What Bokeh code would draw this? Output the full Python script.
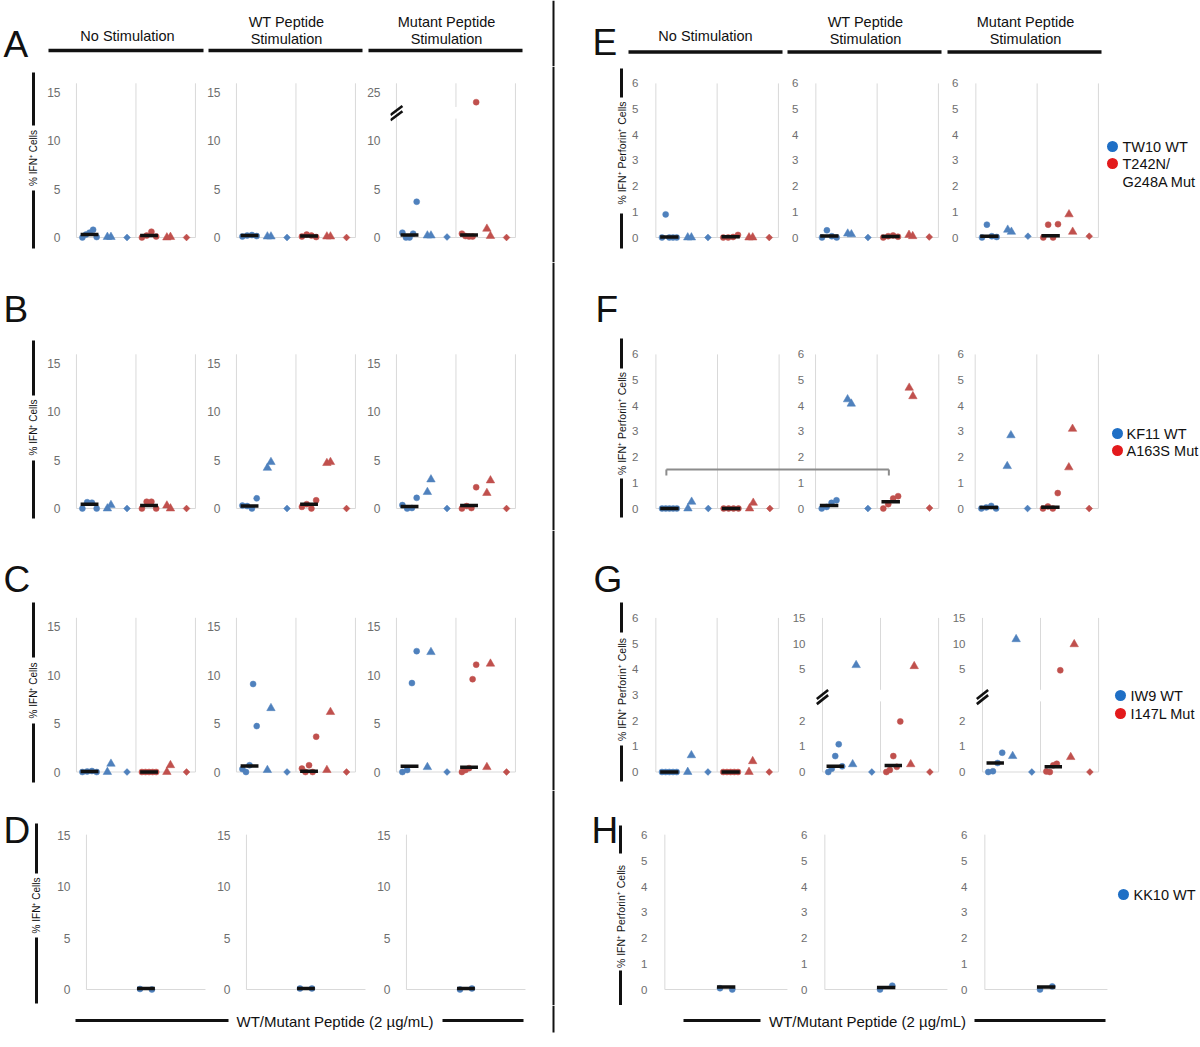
import numpy as np
from bokeh.plotting import figure
from bokeh.layouts import row, column
from bokeh.models import Range1d, FixedTicker
from bokeh.core.properties import value
from bokeh.embed import file_html
from bokeh.resources import INLINE

# ====================== DATA ======================
# Column order in every list: No Stimulation, WT Peptide Stimulation, Mutant Peptide Stimulation
# wt = blue series, mut = red series; circ = circles, tri = triangles, dia = diamond, med = median bar
COLUMNS = ["No Stimulation", "WT Peptide\nStimulation", "Mutant Peptide\nStimulation"]
X_LABEL = "WT/Mutant Peptide (2 µg/mL)"
IFN_LABEL = "% IFN⁺ Cells"
PERF_LABEL = "% IFN⁺ Perforin⁺ Cells"
IFN_TICKS = [0, 5, 10, 15]
PERF_TICKS = [0, 1, 2, 3, 4, 5, 6]

# A: TW10 WT vs T242N/G248A Mut, % IFN+ cells
A_wt_circ = [[0.0, 0.3, 0.5, 0.8, 0.05], [0.1, 0.2, 0.25, 0.15], [0.5, 0.0, 0.0, 0.4, 3.7]]
A_wt_tri = [[0.05, 0.05], [0.1, 0.1], [0.2, 0.2]]
A_wt_dia = [0.0, 0.0, 0.05]
A_wt_med = [0.3, 0.2, 0.25]
A_mut_circ = [[0.0, 0.2, 0.6, 0.1], [0.1, 0.3, 0.2, 0.05], [0.4, 0.15, 0.1, 0.1, 24.0]]
A_mut_tri = [[0.0, 0.05], [0.1, 0.1], [0.9, 0.15]]
A_mut_dia = [0.0, 0.0, 0.0]
A_mut_med = [0.2, 0.15, 0.25]

# B: KF11 WT vs A163S Mut, % IFN+ cells
B_wt_circ = [[0.0, 0.65, 0.6, 0.0], [0.3, 0.25, 0.0, 1.05], [0.35, 0.0, 0.05, 1.1]]
B_wt_tri = [[0.0, 0.35], [4.2, 4.8], [1.7, 3.0]]
B_wt_dia = [0.0, 0.0, 0.0]
B_wt_med = [0.45, 0.25, 0.2]
B_mut_circ = [[0.0, 0.7, 0.7, 0.0], [0.17, 0.45, 0.0, 0.85], [0.0, 0.25, 0.05, 2.2]]
B_mut_tri = [[0.3, 0.0], [4.7, 4.8], [1.6, 2.9]]
B_mut_dia = [0.0, 0.0, 0.0]
B_mut_med = [0.3, 0.45, 0.3]

# C: IW9 WT vs I147L Mut, % IFN+ cells
C_wt_circ = [[0.0, 0.05, 0.1, 0.0], [0.3, 0.0, 0.7, 9.1, 4.75], [0.0, 0.2, 9.2, 12.5]]
C_wt_tri = [[0.0, 0.85], [0.2, 6.6], [0.5, 12.4]]
C_wt_dia = [0.0, 0.0, 0.0]
C_wt_med = [0.05, 0.62, 0.6]
C_mut_circ = [[0.0, 0.0, 0.0, 0.0, 0.0], [0.35, 0.0, 0.7, 0.0, 3.65], [0.0, 0.2, 0.4, 9.6, 11.1]]
C_mut_tri = [[0.0, 0.7], [0.2, 6.2], [0.5, 11.2]]
C_mut_dia = [0.0, 0.0, 0.0]
C_mut_med = [0.0, 0.07, 0.5]

# D: KK10 WT only, % IFN+ cells
D_wt_circ = [[0.05, 0.0], [0.1, 0.1], [0.0, 0.1]]
D_wt_med = [0.1, 0.1, 0.1]

# E: TW10 WT vs T242N/G248A Mut, % IFN+ Perforin+ cells
E_wt_circ = [[0.0, 0.9, 0.0, 0.0, 0.0], [0.0, 0.28, 0.05, 0.0], [0.0, 0.5, 0.05, 0.02]]
E_wt_tri = [[0.0, 0.0], [0.15, 0.12], [0.3, 0.22]]
E_wt_dia = [0.0, 0.0, 0.05]
E_wt_med = [0.02, 0.06, 0.05]
E_mut_circ = [[0.0, 0.0, 0.02, 0.1], [0.0, 0.05, 0.08, 0.03], [0.0, 0.5, 0.0, 0.52]]
E_mut_tri = [[0.0, 0.0], [0.1, 0.05], [0.9, 0.22]]
E_mut_dia = [0.0, 0.02, 0.05]
E_mut_med = [0.03, 0.04, 0.07]

# F: KF11 WT vs A163S Mut, % IFN+ Perforin+ cells
F_wt_circ = [[0.0, 0.0, 0.0, 0.0, 0.0], [0.0, 0.06, 0.22, 0.32], [0.0, 0.04, 0.1, 0.0]]
F_wt_tri = [[0.0, 0.26], [4.25, 4.08], [1.65, 2.85]]
F_wt_dia = [0.0, 0.0, 0.0]
F_wt_med = [0.0, 0.12, 0.04]
F_mut_circ = [[0.0, 0.0, 0.0, 0.0], [0.0, 0.17, 0.39, 0.48], [0.0, 0.08, 0.0, 0.6]]
F_mut_tri = [[0.0, 0.22], [4.7, 4.37], [1.6, 3.1]]
F_mut_dia = [0.0, 0.02, 0.0]
F_mut_med = [0.0, 0.26, 0.05]
F_BRACKET_Y = 1.52

# G: IW9 WT vs I147L Mut, % IFN+ Perforin+ cells (broken axis in cols 2-3)
G_wt_circ = [[0.0, 0.0, 0.0, 0.0, 0.0], [0.0, 0.13, 0.62, 1.08, 0.22], [0.0, 0.03, 0.35, 0.75]]
G_wt_tri = [[0.0, 0.65], [0.3, 5.8], [0.62, 10.85]]
G_wt_dia = [0.0, 0.0, 0.0]
G_wt_med = [0.0, 0.22, 0.35]
G_mut_circ = [[0.0, 0.0, 0.0, 0.0, 0.0], [0.0, 0.08, 0.62, 0.2, 1.97], [0.02, 0.0, 0.26, 0.32, 4.8]]
G_mut_tri = [[0.0, 0.42], [0.3, 5.6], [0.58, 9.87]]
G_mut_dia = [0.0, 0.0, 0.0]
G_mut_med = [0.0, 0.25, 0.2]

# H: KK10 WT only, % IFN+ Perforin+ cells
H_wt_circ = [[0.05, 0.0], [0.0, 0.15], [0.0, 0.12]]
H_wt_med = [0.1, 0.08, 0.1]

LEGEND_A = ["TW10 WT", "T242N/\nG248A Mut"]
LEGEND_B = ["KF11 WT", "A163S Mut"]
LEGEND_C = ["IW9 WT", "I147L Mut"]
LEGEND_D = ["KK10 WT"]

# ====================== STYLE / GEOMETRY ======================
FONT = "Liberation Sans"
BLUE, RED = "#4f81bd", "#c0504d"
LEG_BLUE, LEG_RED = "#1f6fc5", "#e31a1c"
GRID = "#d9d9d9"
TICKC = "#6e6e6e"
INK = "#111111"

LEFT = dict(xr0=-0.1, ppx=59.5, L=28, R=4, fw=128)
RIGHT = dict(xr0=-0.12, ppx=61.75, L=18, R=8, fw=134)
RIGHT_LAST = dict(RIGHT, R=4)
# band height and pixel row (from band top) of the value 0
BANDS = {"A": dict(H=196, z=171), "B": dict(H=268, z=246), "C": dict(H=260, z=241.5),
         "D": dict(H=215, z=199)}
SCALES = {"ifn": dict(ppy=9.667, top=15.95), "perf": dict(ppy=25.68, top=6.0),
          "d": dict(ppy=10.256, top=15.1), "h": dict(ppy=25.68, top=6.03)}


def yrange(band, scale):
    b, s = BANDS[band], SCALES[scale]
    return (-(b["H"] - b["z"]) / s["ppy"], b["z"] / s["ppy"])


def deco(w, h):
    p = figure(width=w, height=h, x_range=Range1d(0, w), y_range=Range1d(h, 0),
               x_axis_location=None, y_axis_location=None, toolbar_location=None,
               output_backend="svg", min_border=0, outline_line_color=None)
    p.grid.visible = False
    return p


def txt(p, x, y, s, size, align="left", angle=0.0, color=INK):
    p.text(x=[x], y=[y], text=[s], angle=angle, text_align=align, text_baseline="middle",
           text_font=value(FONT), text_font_size=value(size), text_color=color)


def seg(p, x0, y0, x1, y1, w=3, color=INK):
    p.segment(x0=[x0], y0=[y0], x1=[x1], y1=[y1], line_width=w, line_color=color)


def base_panel(geom, band, scale, ticks, fs, fw, overrides=None):
    yr = yrange(band, scale)
    xr = (geom["xr0"], geom["xr0"] + fw / geom["ppx"])
    p = figure(width=geom["L"] + fw + geom["R"], height=BANDS[band]["H"], x_range=Range1d(*xr),
               y_range=Range1d(*yr), x_axis_location=None, y_axis_location="left",
               toolbar_location=None, output_backend="svg", min_border_left=geom["L"],
               min_border_right=geom["R"], min_border_top=0, min_border_bottom=0,
               outline_line_color=None)
    p.grid.visible = False
    ax = p.yaxis[0]
    ax.ticker = FixedTicker(ticks=ticks)
    if overrides:
        ax.major_label_overrides = overrides
    ax.axis_line_color = None
    ax.major_tick_line_color = None
    ax.minor_tick_line_color = None
    ax.major_label_standoff = 4
    ax.major_label_text_font = FONT
    ax.major_label_text_font_size = fs
    ax.major_label_text_color = TICKC
    return p


def scatter_split(p, xs, ys, marker, color, size, thr, angle=0.0):
    lo = [(x, y) for x, y in zip(xs, ys) if thr is None or y <= thr]
    hi = [(x, y) for x, y in zip(xs, ys) if thr is not None and y > thr]
    kw = dict(marker=marker, size=size, angle=angle, fill_color=color, line_color=color, line_width=0.5)
    if lo:
        p.scatter(x=[a for a, _ in lo], y=[b for _, b in lo], **kw)
    if hi:
        p.scatter(x=[a for a, _ in hi], y=[b for _, b in hi], y_range_name="hi", **kw)


def draw_sub(p, geom, scale, groups, off=0.0, thr=None, gap=None, brk=None, single=False):
    top = SCALES[scale]["top"]
    ppy = SCALES[scale]["ppy"]
    x0, y0, x1, y1 = [], [], [], []
    for gl in ([0] if single else [0, 1, 2]):
        if gap is not None and gl == 1:
            x0 += [off + gl] * 2; y0 += [0, gap[1]]; x1 += [off + gl] * 2; y1 += [gap[0], top]
        else:
            x0.append(off + gl); y0.append(0); x1.append(off + gl); y1.append(top)
    x0.append(off); y0.append(0); x1.append(off + 2); y1.append(0)
    p.segment(x0=x0, y0=y0, x1=x1, y1=y1, line_color=GRID, line_width=1)
    ppx = geom["ppx"]
    if brk is not None:
        dx, dy, sep = 6.0 / ppx, 4.5 / ppy, 2.6 / ppy
        p.segment(x0=[off - dx] * 2, y0=[brk - sep - dy, brk + sep - dy],
                  x1=[off + dx] * 2, y1=[brk - sep + dy, brk + sep + dy], line_color=INK, line_width=2.6)
    for g in groups:
        gx, color = off + g["gx"], g["color"]
        circ = g["circ"]
        center = gx + (0.0 if single else 0.22)
        spread = 0.1 if single else 0.12
        cx = center + np.linspace(-spread, spread, len(circ))
        scatter_split(p, list(cx), circ, "circle", color, 6, thr)
        if g.get("tri") is not None:
            scatter_split(p, [gx + 0.52, gx + 0.58][:len(g["tri"])], g["tri"], "triangle", color, 8.5, thr)
        if g.get("dia") is not None:
            scatter_split(p, [gx + 0.85], [g["dia"]], "square", color, 4.8, thr, angle=np.pi / 4)
        p.rect(x=[center], y=[g["med"]], width=0.30, height=3.5, height_units="screen",
               fill_color=INK, line_color=None)


def data_panel(geom, band, scale, ticks, fs, groups, overrides=None, hi=None, gap=None, brk=None,
               single=False):
    p = base_panel(geom, band, scale, ticks, fs, geom["fw"], overrides)
    thr = None
    if hi is not None:
        thr, fn = hi
        y0, y1 = yrange(band, scale)
        p.extra_y_ranges = {"hi": Range1d(fn(y0), fn(y1))}
    draw_sub(p, geom, scale, groups, 0.0, thr, gap, brk, single)
    return p


def groups_for(prefix, col):
    d = globals()
    return [dict(gx=0, color=BLUE, circ=d[prefix + "_wt_circ"][col], tri=d[prefix + "_wt_tri"][col],
                 dia=d[prefix + "_wt_dia"][col], med=d[prefix + "_wt_med"][col]),
            dict(gx=1, color=RED, circ=d[prefix + "_mut_circ"][col], tri=d[prefix + "_mut_tri"][col],
                 dia=d[prefix + "_mut_dia"][col], med=d[prefix + "_mut_med"][col])]


def single_group(prefix, col):
    d = globals()
    return [dict(gx=1, color=BLUE, circ=d[prefix + "_wt_circ"][col], tri=None, dia=None,
                 med=d[prefix + "_wt_med"][col])]


def ylabel(p, x, bar, label, fs):
    top, g0, g1, bot, yc = bar
    seg(p, x, top, x, g0, w=3)
    seg(p, x, g1, x, bot, w=3)
    txt(p, x, yc, label, fs, align="center", angle=np.pi / 2)


def left_strip(w, band, letter, letter_y, bar_x, bar):
    p = deco(w, BANDS[band]["H"])
    if letter:
        txt(p, 3, letter_y, letter, "37px")
    ylabel(p, bar_x, bar, IFN_LABEL, "10px")
    return p


def mid_strip(w, band, div_x, letter, letter_x, letter_y, bar_x, bar):
    h = BANDS[band]["H"]
    p = deco(w, h)
    seg(p, div_x, 0, div_x, h, w=2)
    if letter:
        txt(p, letter_x, letter_y, letter, "37px")
    ylabel(p, bar_x, bar, PERF_LABEL, "10.5px")
    return p


def legend_strip(w, band, labels, cx, tx, ys):
    p = deco(w, BANDS[band]["H"])
    cols = [LEG_BLUE, LEG_RED]
    for i, lab in enumerate(labels):
        p.scatter(x=[cx], y=[ys[i]], marker="circle", size=11, fill_color=cols[i], line_color=None)
        for j, line in enumerate(lab.split("\n")):
            txt(p, tx, ys[i] + 18 * j, line, "14.5px")
    return p


# ---------------- header band (y 0..66) ----------------
hdr = deco(1200, 66)
txt(hdr, 3, 44, "A", "37px")
txt(hdr, 592, 42, "E", "37px")
for centers, uls, uy in (([127, 286, 446], [(48, 203), (208, 362), (368, 522)], 50),
                         ([705, 865, 1025], [(628, 782), (787, 941), (947, 1101)], 51.5)):
    for cx, head, (u0, u1) in zip(centers, COLUMNS, uls):
        lines = head.split("\n")
        if len(lines) == 1:
            txt(hdr, cx, 35, lines[0], "14.5px", align="center")
        else:
            txt(hdr, cx, 21, lines[0], "14.5px", align="center")
            txt(hdr, cx, 38, lines[1], "14.5px", align="center")
        seg(hdr, u0, uy, u1, uy, w=3.5)
seg(hdr, 553, 0, 553, 66, w=2)

# ---------------- band A / E (y 66..262) ----------------
A_HI = (12, lambda u: u + 10)
bandA = row(
    left_strip(42, "A", None, 0, 33, (6, 59, 124, 182, 91.5)),
    data_panel(LEFT, "A", "ifn", IFN_TICKS, "12px", groups_for("A", 0)),
    data_panel(LEFT, "A", "ifn", IFN_TICKS, "12px", groups_for("A", 1)),
    data_panel(LEFT, "A", "ifn", IFN_TICKS, "12px", groups_for("A", 2), overrides={15: "25"},
               hi=A_HI, gap=(12.3, 13.5), brk=12.86),
    mid_strip(107, "A", 31, None, 0, 0, 99, (2, 31, 147, 182, 86.5)),
    data_panel(RIGHT, "A", "perf", PERF_TICKS, "11.5px", groups_for("E", 0)),
    data_panel(RIGHT, "A", "perf", PERF_TICKS, "11.5px", groups_for("E", 1)),
    data_panel(RIGHT_LAST, "A", "perf", PERF_TICKS, "11.5px", groups_for("E", 2)),
    legend_strip(95, "A", LEGEND_A, 7, 17, [80, 97]),
    spacing=0)

# ---------------- band B / F (y 262..530) ----------------
# F1-F3 share one frame so that the bracket can run across panels
SUB = 160 / RIGHT["ppx"]
fw_f = 160 + 160 + 156 - RIGHT["L"] - 4
fF = base_panel(RIGHT_LAST, "B", "perf", PERF_TICKS, "11.5px", fw_f)
for k in range(3):
    off = k * SUB
    draw_sub(fF, RIGHT, "perf", groups_for("F", k), off)
    if k > 0:
        lx = off + RIGHT["xr0"] - 4 / RIGHT["ppx"]
        fF.text(x=[lx] * len(PERF_TICKS), y=PERF_TICKS, text=[str(t) for t in PERF_TICKS],
                text_align="right", text_baseline="middle", text_font=value(FONT),
                text_font_size=value("11.5px"), text_color=TICKC)
bx0, bx1 = 0.17, SUB + 1.19
tick_dy = 6 / SCALES["perf"]["ppy"]
fF.segment(x0=[bx0, bx0, bx1], y0=[F_BRACKET_Y, F_BRACKET_Y, F_BRACKET_Y],
           x1=[bx1, bx0, bx1], y1=[F_BRACKET_Y, F_BRACKET_Y - tick_dy, F_BRACKET_Y - tick_dy],
           line_color="#8c8c8c", line_width=2)

bandB = row(
    left_strip(42, "B", "B", 47, 33, (78, 133, 198, 256, 165)),
    data_panel(LEFT, "B", "ifn", IFN_TICKS, "12px", groups_for("B", 0)),
    data_panel(LEFT, "B", "ifn", IFN_TICKS, "12px", groups_for("B", 1)),
    data_panel(LEFT, "B", "ifn", IFN_TICKS, "12px", groups_for("B", 2)),
    mid_strip(107, "B", 31, "F", 73, 47, 99, (76, 106, 216, 255, 161)),
    fF,
    legend_strip(95, "B", LEGEND_B, 12, 21, [171, 188]),
    spacing=0)

# ---------------- band C / G (y 530..790) ----------------
G_HI = (2.5, lambda u: 5 * (u - 3))
G_TICKS = [0, 1, 2, 4, 5, 6]
G_OVR = {4: "5", 5: "10", 6: "15"}
bandC = row(
    left_strip(42, "C", "C", 49, 33, (72, 127, 193, 252, 160)),
    data_panel(LEFT, "C", "ifn", IFN_TICKS, "12px", groups_for("C", 0)),
    data_panel(LEFT, "C", "ifn", IFN_TICKS, "12px", groups_for("C", 1)),
    data_panel(LEFT, "C", "ifn", IFN_TICKS, "12px", groups_for("C", 2)),
    mid_strip(107, "C", 31, "G", 71, 49, 99, (72, 102, 215, 251, 159)),
    data_panel(RIGHT, "C", "perf", PERF_TICKS, "11.5px", groups_for("G", 0)),
    data_panel(RIGHT, "C", "perf", G_TICKS, "11.5px", groups_for("G", 1), overrides=G_OVR,
               hi=G_HI, gap=(2.75, 3.2), brk=2.92),
    data_panel(RIGHT_LAST, "C", "perf", G_TICKS, "11.5px", groups_for("G", 2), overrides=G_OVR,
               hi=G_HI, gap=(2.75, 3.2), brk=2.92),
    legend_strip(95, "C", LEGEND_C, 15, 25, [165, 183]),
    spacing=0)

# ---------------- band D / H (y 790..1005) ----------------
bandD = row(
    left_strip(52, "D", "D", 40, 36, (33, 83, 147, 213, 115)),
    data_panel(LEFT, "D", "d", IFN_TICKS, "12px", single_group("D", 0), single=True),
    data_panel(LEFT, "D", "d", IFN_TICKS, "12px", single_group("D", 1), single=True),
    data_panel(LEFT, "D", "d", IFN_TICKS, "12px", single_group("D", 2), single=True),
    mid_strip(106, "D", 21, "H", 59, 40, 88, (35, 63, 180, 215, 126)),
    data_panel(RIGHT, "D", "h", PERF_TICKS, "11.5px", single_group("H", 0), single=True),
    data_panel(RIGHT, "D", "h", PERF_TICKS, "11.5px", single_group("H", 1), single=True),
    data_panel(RIGHT_LAST, "D", "h", PERF_TICKS, "11.5px", single_group("H", 2), single=True),
    legend_strip(86, "D", LEGEND_D, 9, 19, [104]),
    spacing=0)

# ---------------- bottom band (y 1005..1047) ----------------
bot = deco(1200, 42)
for (a0, a1), (b0, b1), cx in (((75, 228), (442, 523), 334.5), ((683, 760), (974, 1105), 867)):
    seg(bot, a0, 15, a1, 15, w=3)
    seg(bot, b0, 15, b1, 15, w=3)
    txt(bot, cx, 16, X_LABEL, "15px", align="center")
seg(bot, 553, 0, 553, 27, w=2)

layout = column(hdr, bandA, bandB, bandC, bandD, bot, spacing=0)
open("out.html", "w").write(file_html(layout, INLINE, "Figure"))
